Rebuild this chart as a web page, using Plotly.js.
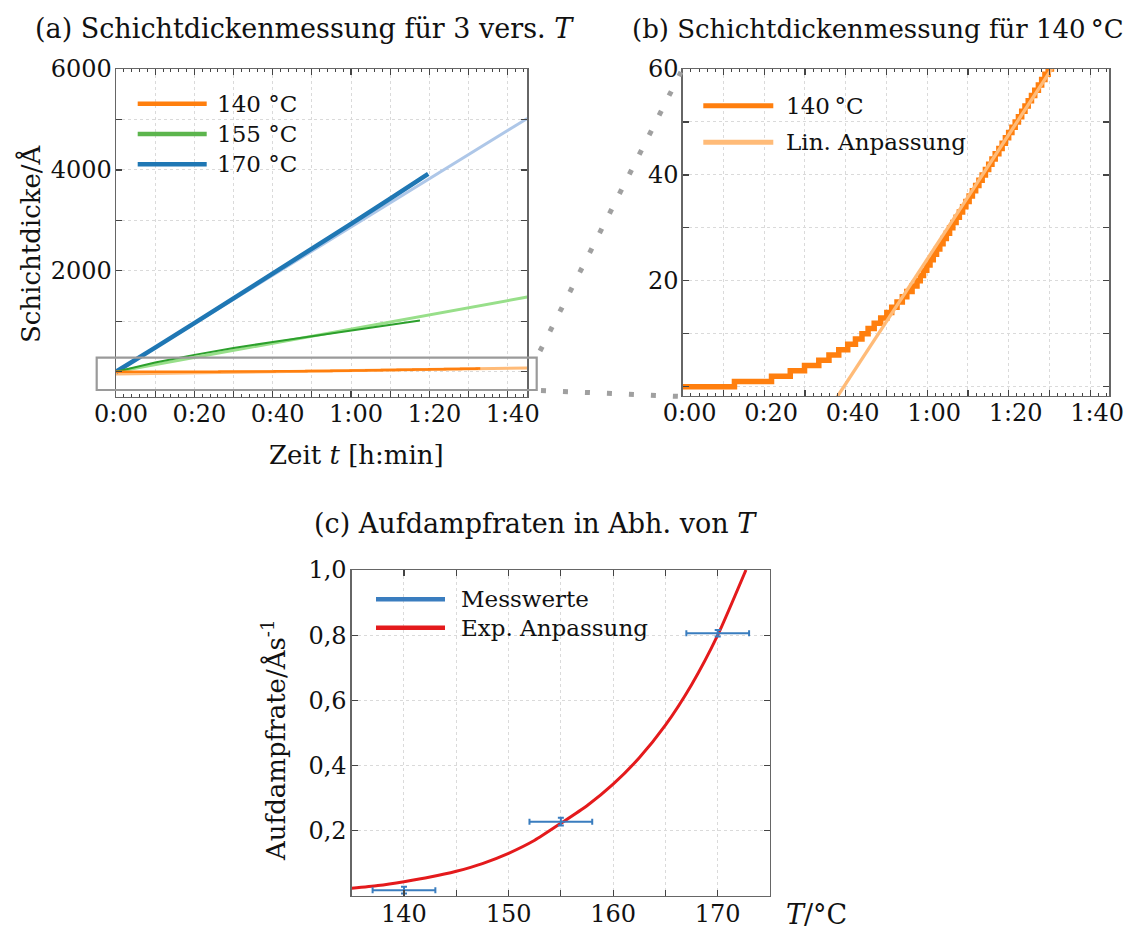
<!DOCTYPE html>
<html><head><meta charset="utf-8">
<script src="https://cdn.plot.ly/plotly-3.0.1.min.js"></script>
<style>html,body{margin:0;padding:0;background:#fff;} #chart{width:1132px;height:930px;}</style>
</head><body><div id="chart"></div>
<script>
// ---------- Data ----------
// (a) layer thickness vs time [min], thickness [Å]
const t170 = [0, 5, 10, 20, 30, 40, 50, 60, 70, 75, 79.7];
const d170 = [0, 230, 480, 965, 1450, 1940, 2430, 2930, 3430, 3680, 3920];
const t155 = [0, 5, 10, 20, 30, 40, 50, 60, 70, 77.6];
const d155 = [0, 100, 185, 335, 470, 590, 705, 820, 925, 1016];
// 140 °C: staircase, onset time of each 1 Å level
const t140 = [0, 12.7, 21.8, 26.4, 29.9, 33.4, 35.9, 38.3, 40.5, 42.4, 44.0, 45.5, 47.0, 48.6, 50.1, 51.3,
  52.6, 53.9, 55.0, 56.3, 57.5, 58.3, 59.1, 59.9, 60.7, 61.5, 62.3, 63.1, 63.9, 64.7, 65.5, 66.3, 67.1,
  67.9, 68.7, 69.5, 70.3, 71.1, 71.9, 72.7, 73.5, 74.3, 75.1, 75.9, 76.7, 77.6, 78.4, 79.2, 80.0, 80.8,
  81.6, 82.4, 83.2, 84.0, 84.8, 85.6, 86.4, 87.3, 88.1, 88.9, 89.7, 90.5, 91.3, 92.1, 93.0];
const d140 = [0, 1, 2, 3, 4, 5, 6, 7, 8, 9, 10, 11, 12, 13, 14, 15, 16, 17, 18, 19, 20, 21, 22, 23, 24, 25,
  26, 27, 28, 29, 30, 31, 32, 33, 34, 35, 36, 37, 38, 39, 40, 41, 42, 43, 44, 45, 46, 47, 48, 49, 50, 51,
  52, 53, 54, 55, 56, 57, 58, 59, 60, 61, 62, 63, 63];
// linear fits
const fitT = [0, 105];
const fit170 = [0, 5020];
const fit155 = [0, 1480];
const fit140 = [-46.5, 77.0];
// (c) evaporation rate vs temperature
const Tmeas = [140, 155, 170];
const Rmeas = [0.018, 0.228, 0.806];
const Terr = [3, 3, 3];
const Rerr = [0.010, 0.012, 0.010];
const Tcurve = [135, 137.5, 140, 142.5, 145, 147.5, 150, 152.5, 155, 157.5, 160, 162.5, 165, 167.5, 170, 172.7];
const Rcurve = [0.0235, 0.032, 0.044, 0.058, 0.076, 0.0995, 0.131, 0.171, 0.223, 0.277, 0.343, 0.424, 0.524, 0.648, 0.800, 1.0];
// tick labels
const timeTickVals = [0, 10, 20, 30, 40, 50, 60, 70, 80, 90, 100];
const timeTickText = ['0:00', ' ', '0:20', ' ', '0:40', ' ', '1:00', ' ', '1:20', ' ', '1:40'];
const dA_TickVals = [0, 1000, 2000, 3000, 4000, 5000, 6000];
const dA_TickText = [' ', ' ', '2000', ' ', '4000', ' ', '6000'];
const dB_TickVals = [0, 10, 20, 30, 40, 50, 60];
const dB_TickText = [' ', ' ', '20', ' ', '40', ' ', '60'];
const T_TickVals = [135, 140, 145, 150, 155, 160, 165, 170, 175];
const T_TickText = [' ', '140', ' ', '150', ' ', '160', ' ', '170', ' '];
const R_TickVals = [0.2, 0.4, 0.6, 0.8, 1.0];
const R_TickText = ['0,2', '0,4', '0,6', '0,8', '1,0'];
const legA = ['140 °C', '155 °C', '170 °C'];
const legB = ['140\u2009°C', 'Lin. Anpassung'];
const legC = ['Messwerte', 'Exp. Anpassung'];

// ---------- Layout helpers ----------
const W = 1132, H = 930;
const px = x => x / W;
const py = y => 1 - y / H;
const FONT = 'DejaVu Serif';

const traces = [
  {x: fitT, y: fit170, xaxis: 'x', yaxis: 'y', mode: 'lines', line: {color: '#aec7e8', width: 3}},
  {x: fitT, y: fit155, xaxis: 'x', yaxis: 'y', mode: 'lines', line: {color: '#98df8a', width: 3}},
  {x: fitT, y: fit140, xaxis: 'x', yaxis: 'y', mode: 'lines', line: {color: '#ffbb78', width: 3}},
  {x: t170, y: d170, xaxis: 'x', yaxis: 'y', mode: 'lines', line: {color: '#1f77b4', width: 4.5}},
  {x: t155, y: d155, xaxis: 'x', yaxis: 'y', mode: 'lines', line: {color: '#2ca02c', width: 2}},
  {x: t140, y: d140, xaxis: 'x', yaxis: 'y', mode: 'lines', line: {color: '#ff7f0e', width: 2.5, shape: 'hv'}},
  {x: t140, y: d140, xaxis: 'x2', yaxis: 'y2', mode: 'lines', line: {color: '#ff7f0e', width: 5.5, shape: 'hv'}},
  {x: fitT, y: fit140, xaxis: 'x2', yaxis: 'y2', mode: 'lines', line: {color: '#ffbb78', width: 3.3}},
  {x: Tcurve, y: Rcurve, xaxis: 'x3', yaxis: 'y3', mode: 'lines', line: {color: '#e41a1c', width: 3, shape: 'spline', smoothing: 0.6}},
  {x: Tmeas, y: Rmeas, xaxis: 'x3', yaxis: 'y3', mode: 'markers', marker: {size: 1, color: '#3a7dbf'},
   error_x: {type: 'data', array: Terr, color: '#3a7dbf', thickness: 2, width: 3},
   error_y: {type: 'data', array: Rerr, color: '#3a7dbf', thickness: 2, width: 3}}
];

const axBase = {
  showline: true, mirror: 'ticks', linecolor: '#666', linewidth: 1.3,
  ticks: 'inside', ticklen: 6, tickwidth: 1.2, tickcolor: '#444',
  showgrid: true, gridcolor: '#dadada', griddash: 'dot', gridwidth: 1,
  zeroline: false, tickfont: {family: FONT, size: 24, color: '#111'},
  tickmode: 'array', fixedrange: true
};
const minorTime = {ticks: 'inside', tickmode: 'linear', tick0: 0, dtick: 2, ticklen: 3, tickwidth: 1, tickcolor: '#444', showgrid: false};

const layout = {
  width: W, height: H, margin: {l: 0, r: 0, t: 0, b: 0},
  paper_bgcolor: '#fff', plot_bgcolor: '#fff', showlegend: false,
  font: {family: FONT, color: '#111'},
  xaxis: Object.assign({}, axBase, {domain: [px(116), px(527.3)], range: [0, 105], anchor: 'y',
    tickvals: timeTickVals, ticktext: timeTickText, minor: minorTime, ticklabelshift: 5, ticklabelstandoff: -5}),
  yaxis: Object.assign({}, axBase, {domain: [py(397), py(69)], range: [-500, 6000], anchor: 'x',
    tickvals: dA_TickVals, ticktext: dA_TickText, ticklabelstandoff: -2}),
  xaxis2: Object.assign({}, axBase, {domain: [px(682.7), px(1109.3)], range: [0, 104.7], anchor: 'y2',
    tickvals: timeTickVals, ticktext: timeTickText, minor: minorTime, ticklabelshift: 7, ticklabelstandoff: -5}),
  yaxis2: Object.assign({}, axBase, {domain: [py(396), py(69)], range: [-1.75, 60], anchor: 'x2',
    tickvals: dB_TickVals, ticktext: dB_TickText, ticklabelstandoff: -2}),
  xaxis3: Object.assign({}, axBase, {domain: [px(351.7), px(770)], range: [135, 175], anchor: 'y3',
    tickvals: T_TickVals, ticktext: T_TickText, ticklabelstandoff: -4}),
  yaxis3: Object.assign({}, axBase, {domain: [py(896), py(570)], range: [0, 1.0], anchor: 'x3',
    tickvals: R_TickVals, ticktext: R_TickText, ticklabelstandoff: -1}),
  shapes: [], annotations: []
};

// white legend backgrounds (hide grid behind legends)
[[123, 77, 307, 190], [689, 76, 975, 165], [358, 577, 652, 653]].forEach(b => {
  layout.shapes.push({type: 'rect', xref: 'paper', yref: 'paper', layer: 'between',
    x0: px(b[0]), x1: px(b[2]), y0: py(b[3]), y1: py(b[1]), fillcolor: '#fff', line: {width: 0}});
});
// zoom rectangle in (a) and connector lines to (b)
layout.shapes.push({type: 'rect', xref: 'paper', yref: 'paper', layer: 'above',
  x0: px(96.7), x1: px(536.7), y0: py(390), y1: py(357.7), line: {color: '#9a9a9a', width: 2.2}});
layout.shapes.push({type: 'line', xref: 'paper', yref: 'paper', x0: px(540), y0: py(351), x1: px(681), y1: py(72),
  line: {color: '#a0a0a0', width: 5, dash: '5px,17px'}});
layout.shapes.push({type: 'line', xref: 'paper', yref: 'paper', x0: px(541), y0: py(390.5), x1: px(681), y1: py(396.5),
  line: {color: '#a0a0a0', width: 5, dash: '5px,17px'}});

// legends (drawn manually)
function legendLine(x0, x1, y, color, w) {
  layout.shapes.push({type: 'line', xref: 'paper', yref: 'paper', x0: px(x0), x1: px(x1), y0: py(y), y1: py(y),
    line: {color: color, width: w}});
}
function label(x, y, text, size, opts) {
  layout.annotations.push(Object.assign({xref: 'paper', yref: 'paper', x: px(x), y: py(y), text: text,
    showarrow: false, xanchor: 'left', yanchor: 'middle', font: {family: FONT, size: size, color: '#111'}}, opts || {}));
}
const legAColors = ['#ff7f0e', '#5cb54d', '#1f77b4'];
const legAY = [103.7, 134, 164.3];
legA.forEach((s, i) => { legendLine(137.7, 206.7, legAY[i], legAColors[i], 4.5); label(215, legAY[i], s, 23); });
const legBColors = ['#ff7f0e', '#ffbb78'];
const legBY = [105.7, 142.3];
legB.forEach((s, i) => { legendLine(703.3, 773.3, legBY[i], legBColors[i], 5); label(784, legBY[i], s, 23); });
const legCColors = ['#3a7dbf', '#e41a1c'];
const legCY = [599.3, 627.7];
legC.forEach((s, i) => { legendLine(376, 445, legCY[i], legCColors[i], 4.5); label(459, legCY[i], s, 23); });

// titles
label(304, 29, '(a) Schichtdickenmessung für 3 vers. <i>T</i>', 27, {xanchor: 'center'});
label(878, 29, '(b) Schichtdickenmessung für 140\u2009°C', 26, {xanchor: 'center'});
label(535, 523, '(c) Aufdampfraten in Abh. von <i>T</i>', 27, {xanchor: 'center'});
// axis titles
label(356, 455, 'Zeit <i>t</i> [h:min]', 26, {xanchor: 'center'});
label(30, 244, 'Schichtdicke/Å', 26, {xanchor: 'center', textangle: -90});
label(274, 740, 'Aufdampfrate/Ås<sup>-1</sup>', 26, {xanchor: 'center', textangle: -90});
label(816, 914, '<i>T</i>/°C', 27, {xanchor: 'center'});

Plotly.newPlot('chart', traces, layout, {staticPlot: true, displayModeBar: false});
</script></body></html>
